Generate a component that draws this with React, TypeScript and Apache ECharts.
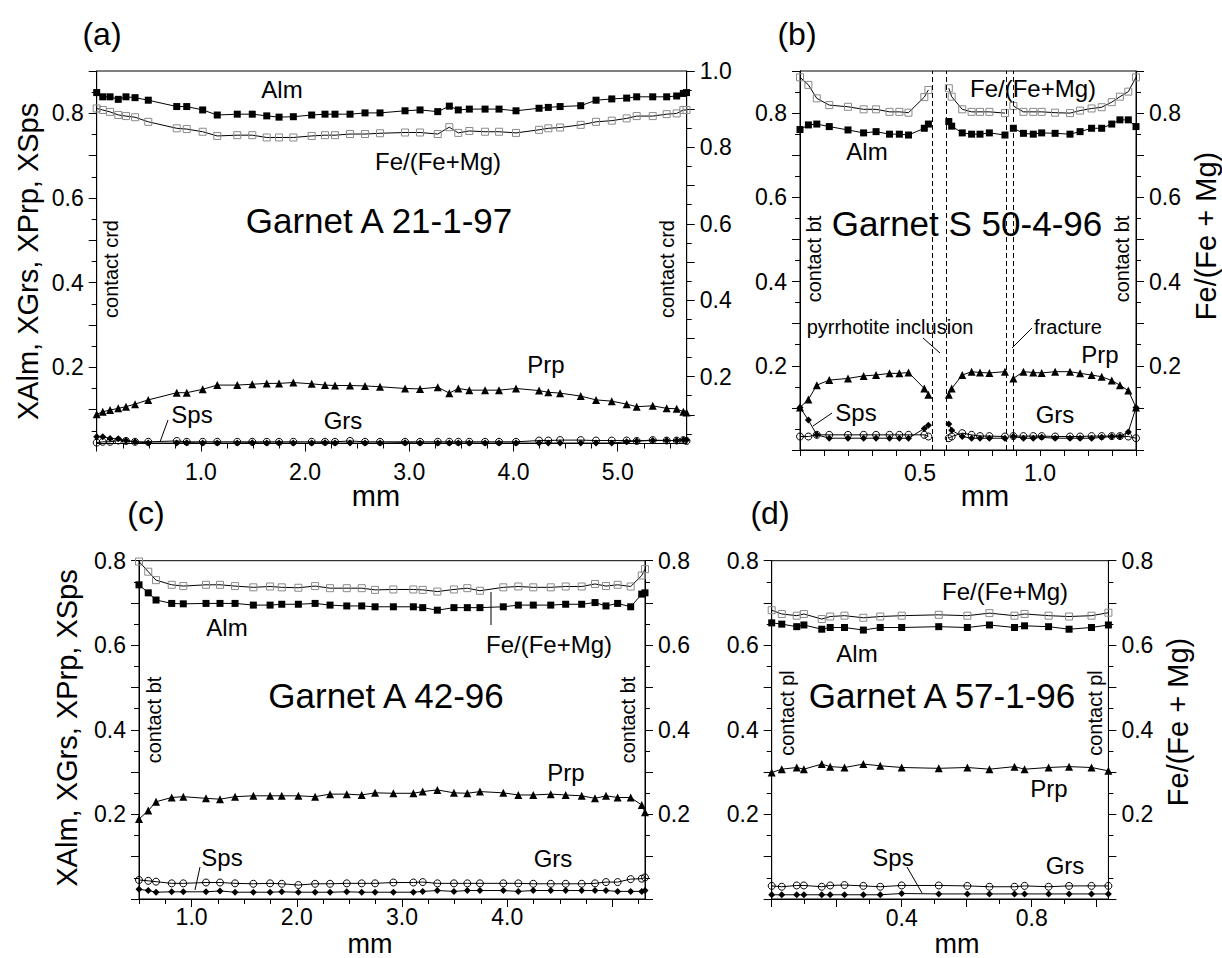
import React, { useEffect, useRef } from "react";
import * as echarts from "echarts";

const FONT = "'Liberation Sans', Arial, Helvetica, sans-serif";

// ---------------- Panel (a): Garnet A 21-1-97 ----------------
const xA = [0, 0.058, 0.128, 0.207, 0.281, 0.368, 0.495, 0.768, 0.864, 1.017, 1.157, 1.349, 1.493, 1.632, 1.75, 1.887, 2.063, 2.191, 2.287, 2.431, 2.575, 2.719, 2.959, 3.103, 3.273, 3.384, 3.47, 3.576, 3.727, 3.861, 4.024, 4.245, 4.334, 4.447, 4.645, 4.792, 4.943, 5.086, 5.182, 5.336, 5.47, 5.566, 5.63, 5.66];
const almA = [0.849, 0.839, 0.839, 0.833, 0.839, 0.837, 0.831, 0.816, 0.816, 0.808, 0.796, 0.798, 0.798, 0.794, 0.791, 0.792, 0.796, 0.798, 0.798, 0.798, 0.801, 0.801, 0.806, 0.808, 0.804, 0.817, 0.808, 0.81, 0.81, 0.81, 0.806, 0.812, 0.814, 0.816, 0.818, 0.831, 0.834, 0.836, 0.839, 0.839, 0.839, 0.841, 0.847, 0.849];
const feA = [0.902, 0.898, 0.893, 0.885, 0.882, 0.879, 0.867, 0.85, 0.848, 0.841, 0.83, 0.832, 0.832, 0.826, 0.826, 0.826, 0.83, 0.832, 0.832, 0.835, 0.835, 0.837, 0.839, 0.839, 0.835, 0.853, 0.838, 0.843, 0.841, 0.841, 0.838, 0.846, 0.85, 0.852, 0.859, 0.867, 0.87, 0.876, 0.882, 0.882, 0.887, 0.889, 0.898, 0.898];
const prpA = [0.089, 0.095, 0.099, 0.103, 0.107, 0.113, 0.123, 0.14, 0.14, 0.148, 0.158, 0.158, 0.16, 0.162, 0.162, 0.164, 0.161, 0.158, 0.157, 0.157, 0.156, 0.154, 0.15, 0.149, 0.153, 0.139, 0.15, 0.146, 0.146, 0.146, 0.15, 0.145, 0.141, 0.139, 0.132, 0.123, 0.12, 0.113, 0.107, 0.109, 0.103, 0.102, 0.095, 0.093];
const spsA = [0.036, 0.036, 0.032, 0.031, 0.027, 0.024, 0.021, 0.021, 0.022, 0.021, 0.021, 0.021, 0.022, 0.021, 0.021, 0.021, 0.021, 0.022, 0.021, 0.021, 0.021, 0.021, 0.022, 0.021, 0.021, 0.021, 0.021, 0.021, 0.021, 0.021, 0.021, 0.021, 0.021, 0.021, 0.021, 0.021, 0.021, 0.024, 0.026, 0.027, 0.027, 0.027, 0.028, 0.028];
const grsA = [0.022, 0.024, 0.024, 0.027, 0.026, 0.024, 0.024, 0.026, 0.024, 0.024, 0.024, 0.024, 0.024, 0.024, 0.024, 0.024, 0.024, 0.024, 0.024, 0.026, 0.024, 0.024, 0.024, 0.024, 0.024, 0.024, 0.024, 0.024, 0.024, 0.024, 0.024, 0.027, 0.027, 0.028, 0.028, 0.027, 0.027, 0.027, 0.026, 0.028, 0.027, 0.027, 0.028, 0.026];

// ---------------- Panel (b): Garnet S 50-4-96 (null = gap) ----------------
const xB = [0, 0.035, 0.07, 0.122, 0.2, 0.265, 0.317, 0.373, 0.414, 0.452, 0.518, 0.535, 0.575, 0.62, 0.632, 0.676, 0.715, 0.75, 0.789, 0.854, 0.87, 0.889, 0.931, 0.972, 1.007, 1.063, 1.125, 1.167, 1.215, 1.257, 1.299, 1.333, 1.368, 1.4];
const feB = [0.885, 0.867, 0.835, 0.819, 0.815, 0.809, 0.809, 0.803, 0.803, 0.801, 0.838, 0.855, null, 0.859, 0.839, 0.809, 0.803, 0.803, 0.803, 0.8, null, 0.817, 0.803, 0.803, 0.803, 0.801, 0.8, 0.806, 0.811, 0.814, 0.826, 0.839, 0.851, 0.885];
const almB = [0.761, 0.772, 0.774, 0.768, 0.76, 0.753, 0.756, 0.75, 0.75, 0.748, 0.764, 0.774, null, 0.78, 0.769, 0.753, 0.75, 0.75, 0.753, 0.748, null, 0.764, 0.752, 0.75, 0.753, 0.752, 0.75, 0.756, 0.764, 0.764, 0.774, 0.784, 0.784, 0.768];
const prpB = [0.101, 0.12, 0.154, 0.166, 0.17, 0.176, 0.178, 0.182, 0.182, 0.184, 0.146, 0.131, null, 0.131, 0.146, 0.178, 0.186, 0.184, 0.183, 0.186, null, 0.17, 0.186, 0.184, 0.183, 0.186, 0.186, 0.182, 0.178, 0.174, 0.165, 0.154, 0.141, 0.101];
const spsB = [0.101, 0.071, 0.036, 0.028, 0.028, 0.028, 0.028, 0.028, 0.028, 0.028, 0.051, 0.059, null, 0.062, 0.047, 0.032, 0.028, 0.028, 0.028, 0.028, null, 0.032, 0.028, 0.028, 0.03, 0.028, 0.028, 0.028, 0.028, 0.03, 0.032, 0.032, 0.043, 0.101];
const grsB = [0.032, 0.032, 0.036, 0.036, 0.036, 0.036, 0.036, 0.036, 0.036, 0.036, 0.036, 0.032, null, 0.028, 0.032, 0.04, 0.036, 0.033, 0.033, 0.032, null, 0.033, 0.033, 0.033, 0.033, 0.032, 0.032, 0.032, 0.033, 0.033, 0.033, 0.033, 0.032, 0.028];
const dashB = [0.545, 0.611, 0.864, 0.889];

// ---------------- Panel (c): Garnet A 42-96 ----------------
const xC = [0.5, 0.588, 0.662, 0.811, 0.921, 1.137, 1.27, 1.413, 1.587, 1.746, 1.857, 2.015, 2.174, 2.316, 2.475, 2.617, 2.744, 2.918, 3.108, 3.197, 3.336, 3.494, 3.621, 3.741, 3.963, 4.106, 4.248, 4.414, 4.556, 4.708, 4.835, 4.939, 5.05, 5.174, 5.279, 5.31];
const feC = [0.798, 0.774, 0.754, 0.743, 0.74, 0.743, 0.743, 0.74, 0.737, 0.739, 0.737, 0.736, 0.74, 0.735, 0.735, 0.735, 0.731, 0.732, 0.732, 0.731, 0.727, 0.732, 0.735, 0.729, 0.737, 0.739, 0.737, 0.737, 0.739, 0.739, 0.745, 0.74, 0.743, 0.739, 0.765, 0.78];
const almC = [0.743, 0.724, 0.707, 0.699, 0.698, 0.699, 0.699, 0.699, 0.695, 0.695, 0.697, 0.697, 0.699, 0.695, 0.693, 0.693, 0.691, 0.691, 0.691, 0.689, 0.683, 0.689, 0.689, 0.689, 0.691, 0.695, 0.695, 0.695, 0.697, 0.697, 0.701, 0.693, 0.699, 0.691, 0.721, 0.724];
const prpC = [0.189, 0.209, 0.23, 0.24, 0.242, 0.238, 0.236, 0.242, 0.244, 0.244, 0.244, 0.244, 0.242, 0.248, 0.248, 0.246, 0.251, 0.25, 0.25, 0.254, 0.258, 0.251, 0.25, 0.254, 0.251, 0.246, 0.246, 0.248, 0.246, 0.244, 0.238, 0.244, 0.24, 0.24, 0.222, 0.205];
const grsC = [0.045, 0.043, 0.041, 0.037, 0.037, 0.039, 0.039, 0.037, 0.036, 0.037, 0.036, 0.033, 0.036, 0.036, 0.037, 0.037, 0.037, 0.039, 0.039, 0.04, 0.037, 0.037, 0.037, 0.037, 0.037, 0.037, 0.036, 0.036, 0.036, 0.036, 0.037, 0.04, 0.04, 0.047, 0.048, 0.051];
const spsC = [0.023, 0.02, 0.016, 0.017, 0.017, 0.017, 0.019, 0.016, 0.016, 0.016, 0.017, 0.016, 0.016, 0.016, 0.017, 0.016, 0.016, 0.016, 0.016, 0.018, 0.02, 0.018, 0.02, 0.02, 0.02, 0.018, 0.02, 0.02, 0.02, 0.02, 0.02, 0.02, 0.018, 0.018, 0.018, 0.02];

// ---------------- Panel (d): Garnet A 57-1-96 ----------------
const xD = [0, 0.031, 0.077, 0.099, 0.154, 0.18, 0.224, 0.282, 0.334, 0.4, 0.514, 0.602, 0.67, 0.747, 0.778, 0.852, 0.915, 0.984, 1.036];
const feD = [0.683, 0.674, 0.67, 0.674, 0.662, 0.668, 0.67, 0.665, 0.668, 0.67, 0.672, 0.67, 0.676, 0.67, 0.674, 0.67, 0.668, 0.67, 0.677];
const almD = [0.653, 0.65, 0.644, 0.648, 0.638, 0.642, 0.642, 0.636, 0.642, 0.642, 0.644, 0.642, 0.648, 0.642, 0.646, 0.644, 0.638, 0.642, 0.648];
const prpD = [0.299, 0.307, 0.311, 0.307, 0.319, 0.313, 0.311, 0.319, 0.315, 0.311, 0.309, 0.311, 0.307, 0.313, 0.307, 0.311, 0.313, 0.311, 0.303];
const grsD = [0.031, 0.029, 0.032, 0.032, 0.029, 0.032, 0.033, 0.031, 0.029, 0.032, 0.032, 0.031, 0.029, 0.029, 0.031, 0.029, 0.031, 0.031, 0.031];
const spsD = [0.01, 0.01, 0.01, 0.01, 0.01, 0.01, 0.01, 0.01, 0.01, 0.013, 0.012, 0.012, 0.012, 0.012, 0.012, 0.012, 0.012, 0.012, 0.012];

// ---------------- Tick values ----------------
function steps(from: number, to: number, step: number): number[] {
  const out: number[] = [];
  const n = Math.round((to - from) / step);
  for (let i = 0; i <= n; i++) out.push(Math.round((from + i * step) * 1000) / 1000);
  return out;
}
function without(a: number[], b: number[]): number[] {
  return a.filter((v) => !b.some((w) => Math.abs(v - w) < 1e-6));
}

const xLabelsA = [1, 2, 3, 4, 5];
const xMajorA = [0, 1, 2, 3, 4, 5];
const xMinorA = without(steps(0.25, 5.5, 0.25), xMajorA);
const xLabelsB = [0.5, 1.0];
const xMajorB = steps(0, 1.4, 0.1);
const xLabelsC = [1, 2, 3, 4];
const xMajorC = [1, 2, 3, 4, 5];
const xMinorC = without(steps(0.5, 5.25, 0.25), xMajorC);
const xLabelsD = [0.4, 0.8];
const xMajorD = steps(0, 1.0, 0.2);
const xMinorD = steps(0.1, 0.9, 0.2);
const yLabels = [0.2, 0.4, 0.6, 0.8];
const yLabelsAR = [0.2, 0.4, 0.6, 0.8, 1.0];

type Grid = { left: number; top: number; width: number; height: number };
const grids: Grid[] = [
  { left: 96.7, top: 71, width: 590, height: 372.5 },
  { left: 800, top: 71, width: 336, height: 379 },
  { left: 139, top: 560.7, width: 506, height: 338.3 },
  { left: 771.7, top: 560.7, width: 336.7, height: 338.3 },
];

const fmt = (v: any) => Number(v).toFixed(1);

function mainAxis(gridIndex: number, position: string, min: number, max: number, labels: number[], major: number[], margin: number, tickLen = 8) {
  return {
    type: "value", gridIndex, position, min, max, silent: true,
    axisLine: { show: true, onZero: false, lineStyle: { color: "#000", width: 1 } },
    axisTick: { show: true, inside: false, length: tickLen, customValues: major, lineStyle: { color: "#000", width: 1 } },
    axisLabel: { show: true, customValues: labels, margin, fontSize: 23, lineHeight: 20, fontFamily: FONT, color: "#000", formatter: fmt },
    splitLine: { show: false },
    axisPointer: { show: false },
  };
}
function minorAxis(gridIndex: number, position: string, min: number, max: number, minor: number[]) {
  return {
    type: "value", gridIndex, position, min, max, silent: true,
    axisLine: { show: false, onZero: false },
    axisTick: { show: minor.length > 0, inside: false, length: 5, customValues: minor.length ? minor : [min], lineStyle: { color: "#000", width: 1 } },
    axisLabel: { show: false },
    splitLine: { show: false },
    axisPointer: { show: false },
  };
}

type Kind = "alm" | "fe" | "prp" | "sps" | "grs";
function series(xs: number[], ys: (number | null)[], kind: Kind, p: number, right = false, extra: any = {}) {
  const styles: Record<Kind, any> = {
    alm: { symbol: "rect", symbolSize: 7, itemStyle: { color: "#000" } },
    fe: { symbol: "rect", symbolSize: 7, itemStyle: { color: "rgba(255,255,255,0)", borderColor: "#8a8a8a", borderWidth: 1 } },
    prp: { symbol: "triangle", symbolSize: 8, itemStyle: { color: "#000" } },
    sps: { symbol: "diamond", symbolSize: 7, itemStyle: { color: "#000" } },
    grs: { symbol: "circle", symbolSize: 7, itemStyle: { color: "rgba(255,255,255,0)", borderColor: "#000", borderWidth: 1 } },
  };
  return {
    type: "line",
    xAxisIndex: p * 2,
    yAxisIndex: p * 4 + (right ? 2 : 0),
    data: xs.map((x, i) => (ys[i] == null ? [x, "-"] : [x, ys[i]])),
    connectNulls: false,
    showSymbol: true,
    clip: false,
    silent: true,
    emphasis: { disabled: true },
    lineStyle: { color: "#000", width: 1 },
    ...styles[kind],
    ...extra,
  };
}

function txt(x: number, y: number, s: string, size: number, rot = false, lh?: number) {
  const style: any = { text: s, fontSize: size, fontFamily: FONT, fill: "#000", align: "center", verticalAlign: "middle", textAlign: "center", textVerticalAlign: "middle" };
  if (lh) style.lineHeight = lh;
  return { type: "text", x, y, rotation: rot ? Math.PI / 2 : 0, z: 50, silent: true, style };
}
function seg(x1: number, y1: number, x2: number, y2: number) {
  return { type: "line", z: 50, silent: true, shape: { x1, y1, x2, y2 }, style: { stroke: "#000", lineWidth: 1 } };
}

function buildOption() {
  const xAxes: any[] = [
    mainAxis(0, "bottom", 0, 5.662, xLabelsA, xMajorA, 18), minorAxis(0, "bottom", 0, 5.662, xMinorA),
    mainAxis(1, "bottom", 0, 1.4, xLabelsB, xMajorB, 13, 6), minorAxis(1, "bottom", 0, 1.4, []),
    mainAxis(2, "bottom", 0.5, 5.31, xLabelsC, xMajorC, 8), minorAxis(2, "bottom", 0.5, 5.31, xMinorC),
    mainAxis(3, "bottom", 0, 1.036, xLabelsD, xMajorD, 9), minorAxis(3, "bottom", 0, 1.036, xMinorD),
  ];
  const yAxes: any[] = [
    mainAxis(0, "left", 0.02, 0.9, yLabels, steps(0.1, 0.9, 0.1), 13), minorAxis(0, "left", 0.02, 0.9, steps(0.05, 0.85, 0.1)),
    mainAxis(0, "right", 0.025, 1.0, yLabelsAR, steps(0.1, 1.0, 0.1), 13), minorAxis(0, "right", 0.025, 1.0, steps(0.05, 0.95, 0.1)),
    mainAxis(1, "left", 0, 0.9, yLabels, steps(0, 0.9, 0.1), 13), minorAxis(1, "left", 0, 0.9, steps(0.05, 0.85, 0.1)),
    mainAxis(1, "right", 0, 0.9, yLabels, steps(0, 0.9, 0.1), 13), minorAxis(1, "right", 0, 0.9, steps(0.05, 0.85, 0.1)),
    mainAxis(2, "left", 0, 0.8, yLabels, steps(0, 0.8, 0.1), 13), minorAxis(2, "left", 0, 0.8, steps(0.05, 0.75, 0.1)),
    mainAxis(2, "right", 0, 0.8, yLabels, steps(0, 0.8, 0.1), 13), minorAxis(2, "right", 0, 0.8, steps(0.05, 0.75, 0.1)),
    mainAxis(3, "left", 0, 0.8, yLabels, steps(0, 0.8, 0.1), 13), minorAxis(3, "left", 0, 0.8, steps(0.05, 0.75, 0.1)),
    mainAxis(3, "right", 0, 0.8, yLabels, steps(0, 0.8, 0.1), 13), minorAxis(3, "right", 0, 0.8, steps(0.05, 0.75, 0.1)),
  ];

  const dashLine = {
    silent: true, symbol: ["none", "none"], label: { show: false },
    lineStyle: { type: [5, 3], color: "#000", width: 1 },
    emphasis: { disabled: true },
    data: dashB.map((x) => ({ xAxis: x })),
  };

  const seriesList = [
    series(xA, feA, "fe", 0, true), series(xA, almA, "alm", 0), series(xA, prpA, "prp", 0), series(xA, grsA, "grs", 0), series(xA, spsA, "sps", 0),
    series(xB, feB, "fe", 1, true), series(xB, almB, "alm", 1, false, { markLine: dashLine }), series(xB, prpB, "prp", 1), series(xB, grsB, "grs", 1), series(xB, spsB, "sps", 1),
    series(xC, feC, "fe", 2, true), series(xC, almC, "alm", 2), series(xC, prpC, "prp", 2), series(xC, grsC, "grs", 2), series(xC, spsC, "sps", 2),
    series(xD, feD, "fe", 3, true), series(xD, almD, "alm", 3), series(xD, prpD, "prp", 3), series(xD, grsD, "grs", 3), series(xD, spsD, "sps", 3),
  ];

  const graphics = [
    // panel (a)
    txt(102, 34, "(a)", 32),
    txt(282, 89, "Alm", 24),
    txt(438, 161, "Fe/(Fe+Mg)", 24),
    txt(379, 220, "Garnet A 21-1-97", 35),
    txt(111, 269, "contact crd", 20, true),
    txt(667, 269, "contact crd", 20, true),
    txt(546, 364, "Prp", 24),
    txt(192, 414, "Sps", 24),
    seg(160, 442, 168, 420),
    txt(343, 420, "Grs", 24),
    txt(376, 496, "mm", 29, false, 22),
    txt(27.5, 261.5, "XAlm, XGrs, XPrp, XSps", 29, true),
    // panel (b)
    txt(797, 34, "(b)", 32),
    txt(1033, 88, "Fe/(Fe+Mg)", 24),
    txt(867, 151, "Alm", 24),
    txt(967, 223, "Garnet S 50-4-96", 35),
    txt(814, 259, "contact bt", 20, true),
    txt(1122, 259, "contact bt", 20, true),
    txt(890, 327, "pyrrhotite inclusion", 20),
    seg(923, 338, 940, 353),
    txt(1068, 327, "fracture", 20),
    seg(1032, 328, 1012, 348),
    txt(1100, 354, "Prp", 24),
    txt(856, 412, "Sps", 24),
    seg(832, 413, 813, 426),
    txt(1055, 414, "Grs", 24),
    txt(985, 496, "mm", 29, false, 22),
    txt(1206, 236, "Fe/(Fe + Mg)", 29, true),
    // panel (c)
    txt(146, 513, "(c)", 32),
    txt(227, 627, "Alm", 24),
    txt(549, 644, "Fe/(Fe+Mg)", 24),
    seg(491, 592, 491, 625),
    txt(386, 695, "Garnet A 42-96", 35),
    txt(154, 720, "contact bt", 20, true),
    txt(628, 720, "contact bt", 20, true),
    txt(566, 772, "Prp", 24),
    txt(553, 858, "Grs", 24),
    txt(222, 857, "Sps", 24),
    seg(200, 867, 195, 890),
    txt(370, 944, "mm", 27, false, 20),
    txt(67, 728, "XAlm, XGrs, XPrp, XSps", 29, true),
    // panel (d)
    txt(770, 513, "(d)", 32),
    txt(1005, 591, "Fe/(Fe+Mg)", 24),
    txt(857, 653, "Alm", 24),
    txt(942, 695, "Garnet A 57-1-96", 35),
    txt(787, 713, "contact pl", 20, true),
    txt(1095, 713, "contact pl", 20, true),
    txt(1049, 788, "Prp", 24),
    txt(893, 857, "Sps", 24),
    seg(907, 867, 922, 893),
    txt(1065, 865, "Grs", 24),
    txt(957, 944, "mm", 27, false, 20),
    txt(1178, 722, "Fe/(Fe + Mg)", 29, true),
  ];

  return {
    animation: false,
    backgroundColor: "#fff",
    textStyle: { fontFamily: FONT },
    grid: grids.map((g) => ({
      ...g, show: true, borderColor: "#000", borderWidth: 1, backgroundColor: "transparent",
      containLabel: false, outerBoundsMode: "none",
    })),
    xAxis: xAxes,
    yAxis: yAxes,
    series: seriesList,
    graphic: graphics,
  };
}

export default function App() {
  const ref = useRef<HTMLDivElement>(null);
  useEffect(() => {
    if (!ref.current) return;
    const chart = echarts.init(ref.current, null, { renderer: "svg", width: 1222, height: 958 });
    chart.setOption(buildOption() as any);
    return () => chart.dispose();
  }, []);
  return (
    <div
      ref={ref}
      style={{ position: "fixed", left: 0, top: 0, width: 1222, height: 958, background: "#fff" }}
    />
  );
}
